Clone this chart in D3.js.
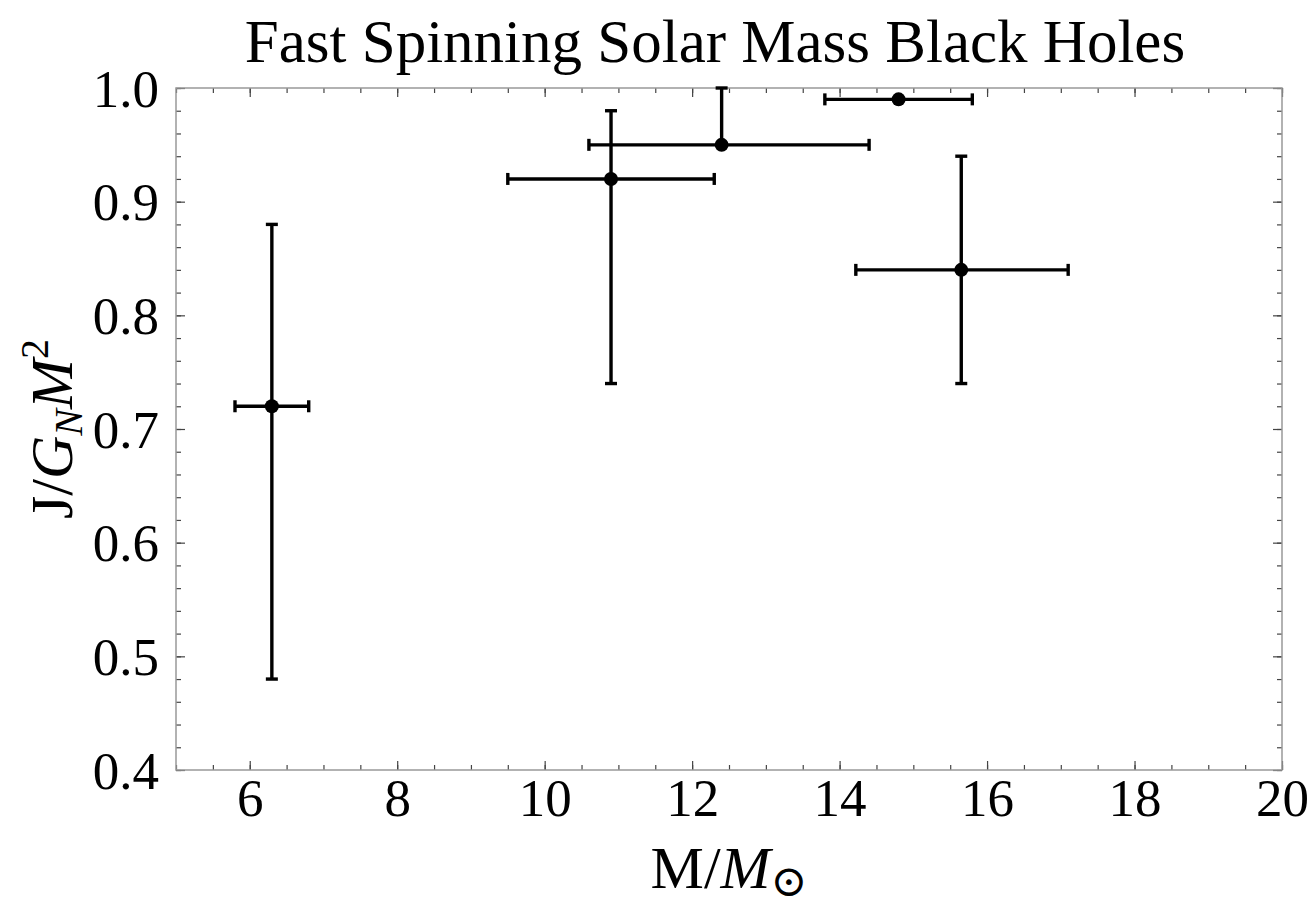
<!DOCTYPE html>
<html>
<head>
<meta charset="utf-8">
<script src="https://cdn.jsdelivr.net/npm/d3@7"></script>
<style>
  body { margin: 0; background: #fff; }
</style>
</head>
<body>
<div class="chart"></div>
<script>
// Data
const masses   = [6.3, 10.9, 12.4, 14.8, 15.65];
const massLo   = [0.5, 1.4, 1.8, 1.0, 1.43];
const massHi   = [0.5, 1.4, 2.0, 1.0, 1.45];
const spins    = [0.72, 0.92, 0.95, 0.99, 0.84];
const spinLo   = [0.24, 0.18, 0, 0, 0.10];
const spinHi   = [0.16, 0.06, 0.05, 0, 0.10];
const xTicks   = [6, 8, 10, 12, 14, 16, 18, 20];
const yTicks   = [0.4, 0.5, 0.6, 0.7, 0.8, 0.9, 1.0];

const serif = "'Liberation Serif', 'Times New Roman', 'DejaVu Serif', serif";

const W = 1316, H = 909;
const margin = {top: 88, left: 176, right: 34, bottom: 139};
const width = W - margin.left - margin.right;
const height = H - margin.top - margin.bottom;

const svg = d3.select(".chart").append("svg")
    .attr("width", W)
    .attr("height", H)
    .attr("font-family", serif);

const g = svg.append("g")
    .attr("transform", `translate(${margin.left},${margin.top})`);

const x = d3.scaleLinear().domain([5, 20]).range([0, width]);
const y = d3.scaleLinear().domain([0.4, 1.0]).range([height, 0]);

const xMinor = d3.range(5, 20.01, 0.5);
const yMinor = d3.range(0.4, 1.001, 0.02);

// ticks pointing inward on all four sides
function addAxis(axis, tr) {
    const a = g.append("g").attr("transform", tr).call(axis);
    a.attr("font-family", serif).attr("font-size", 53);
    a.select(".domain").remove();
    a.selectAll(".tick line").attr("stroke", "#444").attr("stroke-width", 1.2);
    a.selectAll("text").attr("fill", "#000");
    return a;
}

// minor
addAxis(d3.axisBottom(x).tickValues(xMinor).tickSize(-5).tickFormat(""), `translate(0,${height})`);
addAxis(d3.axisTop(x).tickValues(xMinor).tickSize(-5).tickFormat(""), "translate(0,0)");
addAxis(d3.axisLeft(y).tickValues(yMinor).tickSize(-5).tickFormat(""), "translate(0,0)");
addAxis(d3.axisRight(y).tickValues(yMinor).tickSize(-5).tickFormat(""), `translate(${width},0)`);

// major
addAxis(d3.axisBottom(x).tickValues(xTicks).tickSize(-9).tickPadding(8).tickFormat(d3.format("d")), `translate(0,${height})`)
    .selectAll("text").attr("dy", "0.72em");
addAxis(d3.axisTop(x).tickValues(xTicks).tickSize(-9).tickFormat(""), "translate(0,0)");
addAxis(d3.axisLeft(y).tickValues(yTicks).tickSize(-9).tickPadding(17).tickFormat(d3.format(".1f")), "translate(0,0)")
    .selectAll("text").attr("dy", "0.34em");
addAxis(d3.axisRight(y).tickValues(yTicks).tickSize(-9).tickFormat(""), `translate(${width},0)`);

// frame
g.append("rect")
    .attr("width", width)
    .attr("height", height)
    .attr("fill", "none")
    .attr("stroke", "#999")
    .attr("stroke-width", 1.5);

// error bars
const pts = masses.map((m, i) => ({
    m: m, s: spins[i],
    m0: m - massLo[i], m1: m + massHi[i],
    s0: spins[i] - spinLo[i], s1: spins[i] + spinHi[i]
}));

const cap = 6;
const bars = g.append("g").attr("stroke", "#000").attr("stroke-width", 3.4);

pts.forEach(d => {
    // horizontal
    bars.append("line")
        .attr("x1", x(d.m0)).attr("x2", x(d.m1))
        .attr("y1", y(d.s)).attr("y2", y(d.s));
    [d.m0, d.m1].forEach(v => bars.append("line")
        .attr("x1", x(v)).attr("x2", x(v))
        .attr("y1", y(d.s) - cap).attr("y2", y(d.s) + cap));
    // vertical
    if (d.s1 > d.s0) {
        bars.append("line")
            .attr("x1", x(d.m)).attr("x2", x(d.m))
            .attr("y1", y(d.s0)).attr("y2", y(d.s1));
        [d.s0, d.s1].forEach(v => {
            if (v === d.s) return;
            bars.append("line")
                .attr("x1", x(d.m) - cap).attr("x2", x(d.m) + cap)
                .attr("y1", y(v)).attr("y2", y(v));
        });
    }
});

g.selectAll("circle.pt").data(pts).enter().append("circle")
    .attr("class", "pt")
    .attr("cx", d => x(d.m))
    .attr("cy", d => y(d.s))
    .attr("r", 7)
    .attr("fill", "#000");

// title
svg.append("text")
    .attr("x", 715)
    .attr("y", 62)
    .attr("text-anchor", "middle")
    .attr("font-size", 61)
    .text("Fast Spinning Solar Mass Black Holes");

// x label
const xl = svg.append("text")
    .attr("x", margin.left + width / 2)
    .attr("y", 888)
    .attr("text-anchor", "middle")
    .attr("font-size", 60);
xl.append("tspan").text("M/");
xl.append("tspan").attr("font-style", "italic").text("M");
xl.append("tspan").attr("font-size", 44).attr("dy", 8).text("\u2299");

// y label
const yl = svg.append("text")
    .attr("transform", `translate(72,${margin.top + height / 2}) rotate(-90)`)
    .attr("text-anchor", "middle")
    .attr("font-size", 60);
yl.append("tspan").text("J/");
yl.append("tspan").attr("font-style", "italic").text("G");
yl.append("tspan").attr("font-style", "italic").attr("font-size", 40).attr("dy", 10).text("N");
yl.append("tspan").attr("font-style", "italic").attr("dy", -10).text("M");
yl.append("tspan").attr("font-size", 40).attr("dy", -24).text("2");
</script>
</body>
</html>
